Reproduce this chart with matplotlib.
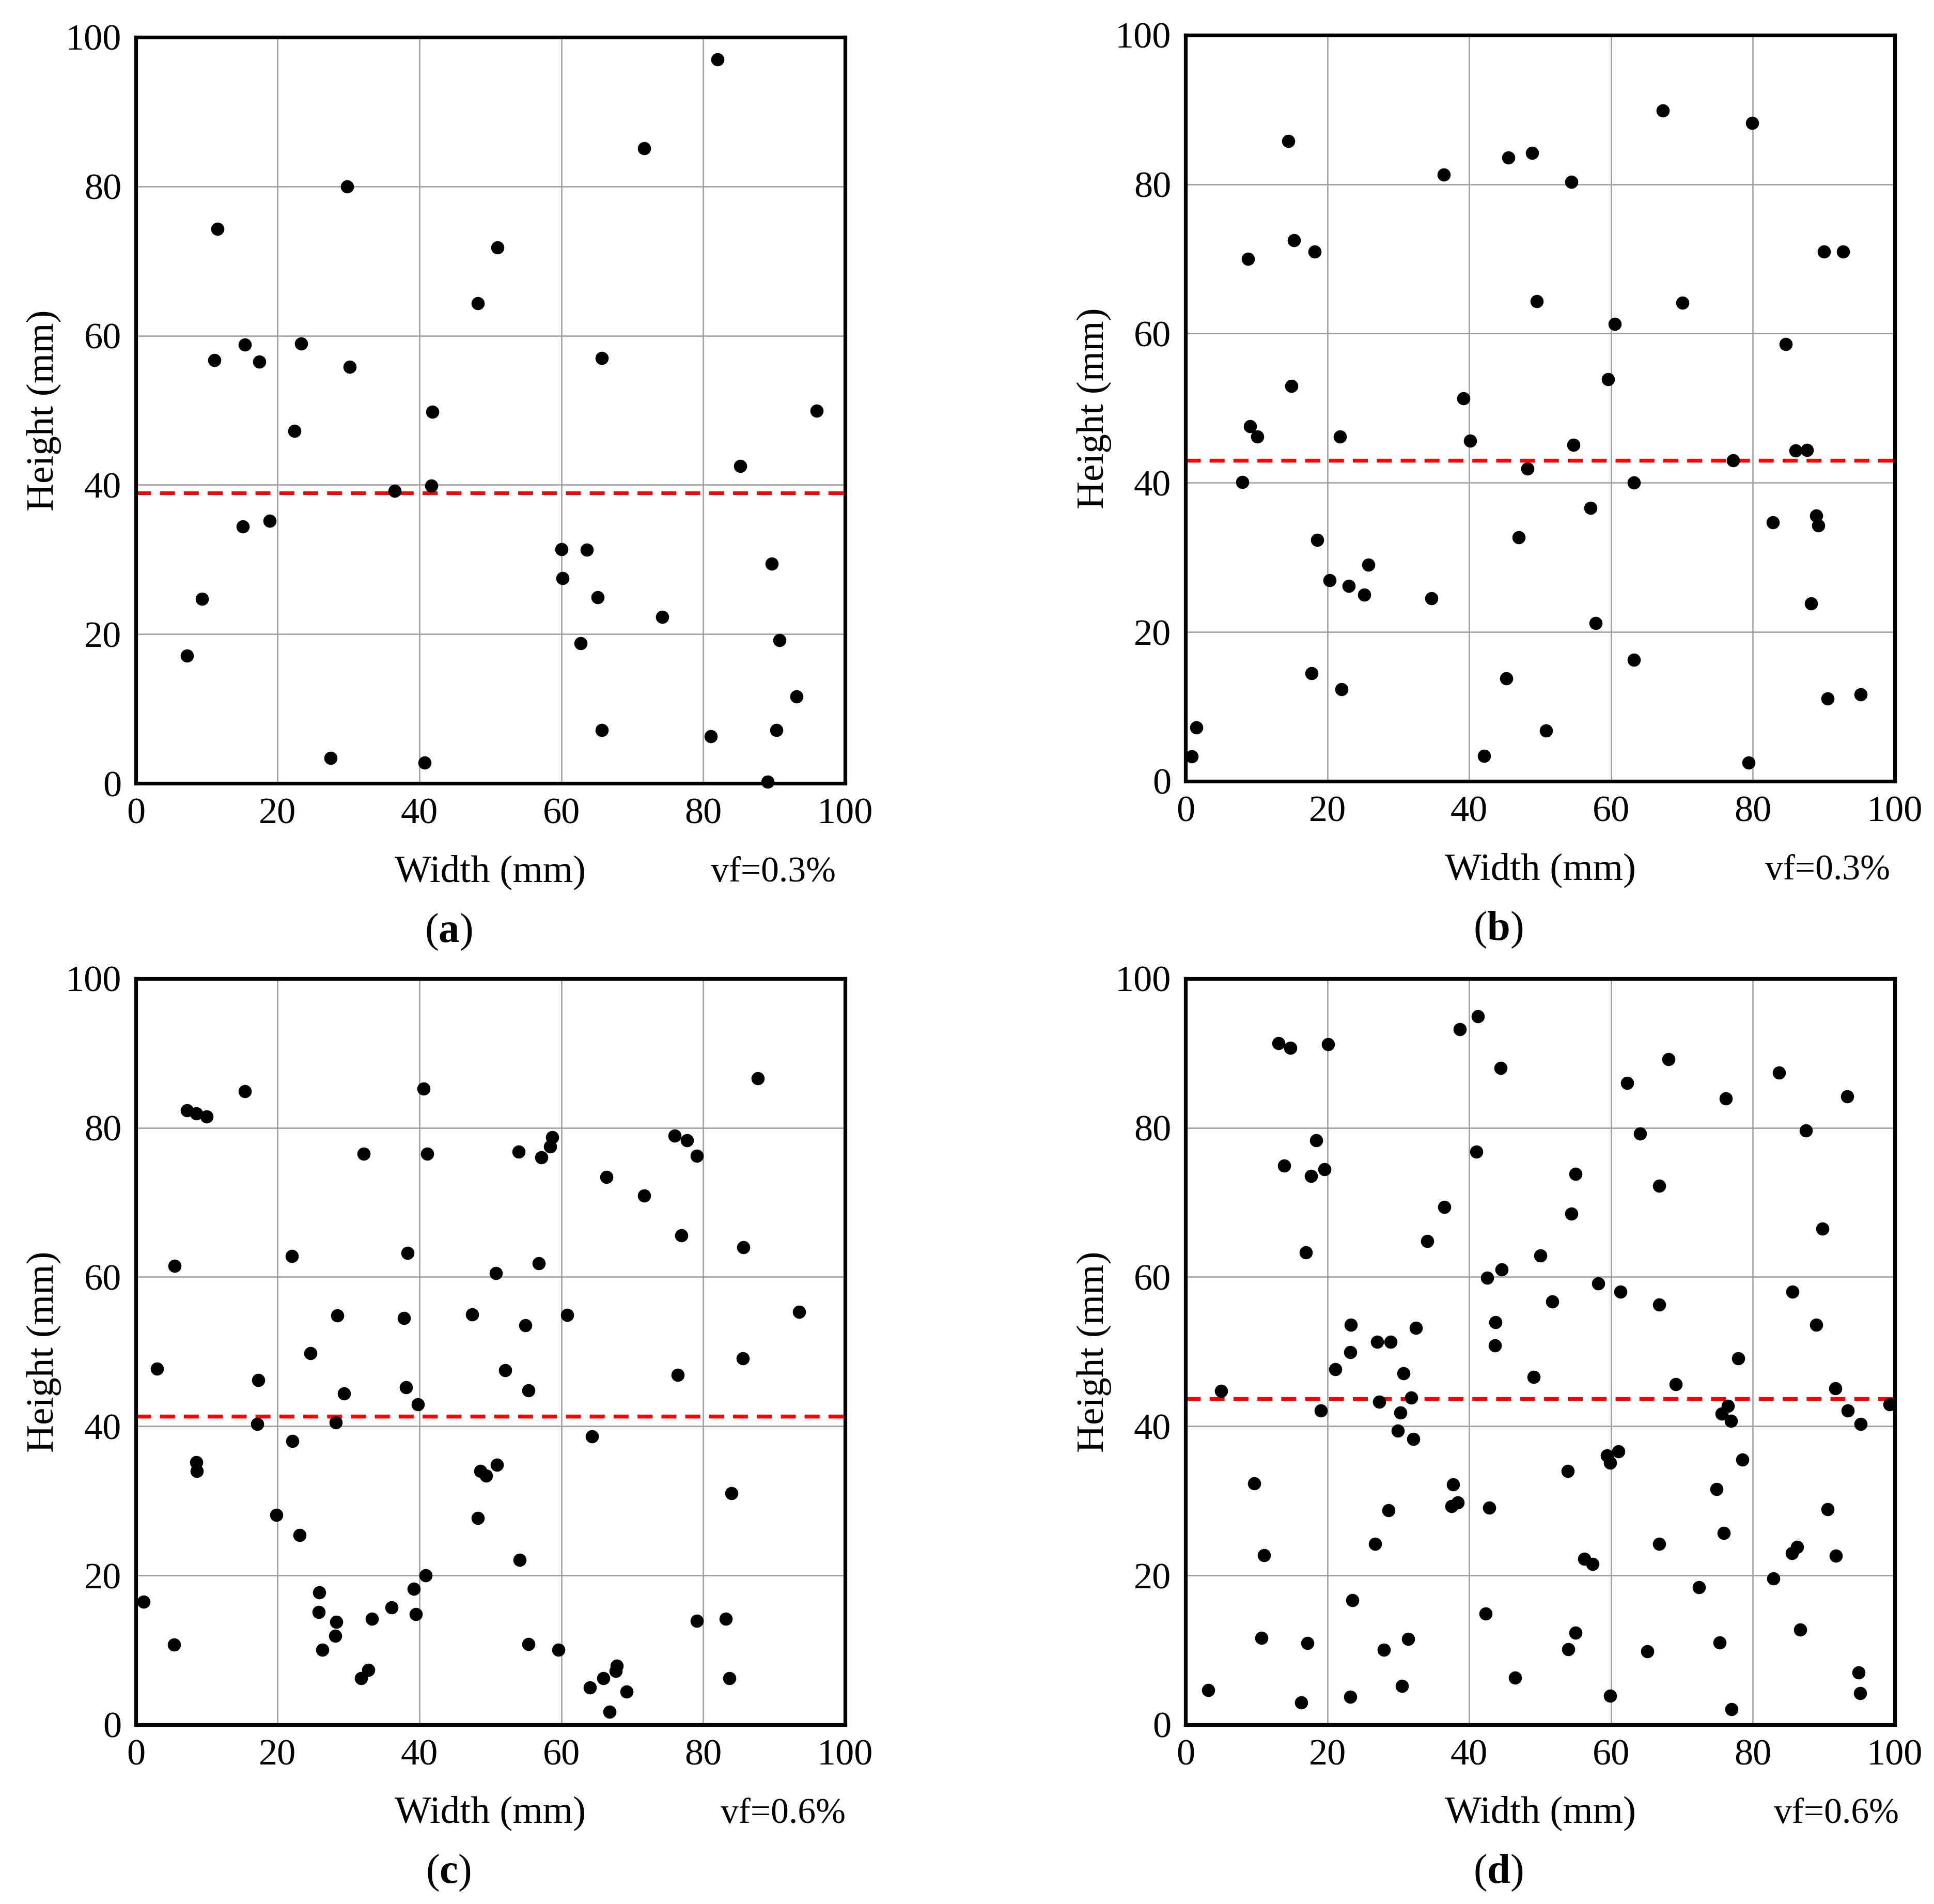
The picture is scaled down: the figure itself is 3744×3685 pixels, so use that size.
import matplotlib
matplotlib.use("Agg")
import matplotlib.pyplot as plt

plt.rcParams['font.family'] = ['Liberation Serif', 'DejaVu Serif']
plt.rcParams['mathtext.fontset'] = 'custom'
plt.rcParams['mathtext.rm'] = 'Liberation Serif'
plt.rcParams['mathtext.bf'] = 'Liberation Serif:bold'

# (a) vf=0.3%
xa = [7.2, 9.3, 11.5, 11.1, 15.4, 15.1, 17.4, 18.9, 22.4, 23.3, 27.5, 29.8, 30.2, 36.5, 40.7,
      41.7, 41.8, 48.2, 51.0, 60.0, 60.2, 63.6, 62.7, 65.1, 65.7, 65.7, 71.7, 74.2, 81.1, 82.0,
      85.2, 89.1, 89.7, 90.3, 90.8, 93.2, 96.0]
ya = [17.1, 24.7, 74.3, 56.7, 58.8, 34.4, 56.5, 35.2, 47.2, 58.9, 3.4, 80.0, 55.8, 39.2, 2.8,
      39.9, 49.8, 64.3, 71.8, 31.4, 27.5, 31.3, 18.8, 24.9, 57.0, 7.1, 85.1, 22.3, 6.3, 97.0,
      42.5, 0.2, 29.4, 7.1, 19.2, 11.6, 49.9]
mean_a = 38.9

# (b) vf=0.3%
xb = [0.9, 1.5, 8.0, 8.8, 9.1, 10.1, 14.5, 14.9, 15.3, 17.8, 18.2, 18.6, 20.3, 21.8, 22.0,
      23.0, 25.2, 25.8, 34.7, 36.4, 39.2, 40.1, 42.1, 45.2, 45.5, 47.0, 48.2, 48.9, 49.5, 50.8,
      54.4, 54.7, 57.1, 57.8, 59.6, 60.5, 63.2, 63.2, 67.3, 70.1, 77.2, 79.4, 79.9, 82.8, 84.6,
      86.0, 87.6, 88.2, 88.9, 89.2, 90.0, 90.5, 92.7, 95.2]
yb = [3.3, 7.2, 40.1, 70.0, 47.6, 46.2, 85.8, 53.0, 72.5, 14.5, 71.0, 32.3, 26.9, 46.2, 12.3,
      26.2, 25.0, 29.0, 24.5, 81.3, 51.3, 45.6, 3.4, 13.8, 83.6, 32.7, 41.9, 84.2, 64.3, 6.8,
      80.3, 45.1, 36.6, 21.2, 53.9, 61.3, 16.3, 40.0, 89.9, 64.1, 43.0, 2.5, 88.2, 34.7, 58.6,
      44.3, 44.4, 23.8, 35.6, 34.3, 71.0, 11.1, 71.0, 11.6]
mean_b = 43.0

# (c) vf=0.6%
xc = [1.1, 3.0, 5.4, 5.5, 7.2, 8.5, 10.0, 8.5, 8.6, 15.4, 17.1, 17.3, 19.8, 22.0, 22.1,
      23.1, 24.6, 25.8, 25.9, 26.3, 28.1, 28.2, 28.3, 28.4, 29.4, 31.8, 32.1, 32.8, 33.3, 36.1,
      37.8, 38.1, 38.3, 39.2, 39.5, 39.8, 40.6, 40.9, 41.1, 47.4, 48.2, 48.6, 49.4, 50.8, 50.9,
      52.1, 54.0, 54.1, 54.9, 55.4, 55.4, 56.8, 57.2, 58.4, 58.7, 59.6, 60.8, 64.0, 64.3, 65.9,
      66.4, 66.8, 67.7, 67.8, 69.2, 71.7, 76.0, 76.4, 76.9, 77.7, 79.1, 79.1, 83.2, 83.7, 84.0,
      85.6, 85.7, 87.7, 93.5]
yc = [16.5, 47.7, 10.7, 61.5, 82.3, 81.9, 81.5, 35.2, 34.0, 84.9, 40.3, 46.2, 28.1, 62.8, 38.0,
      25.4, 49.8, 15.1, 17.7, 10.0, 11.9, 40.5, 13.8, 54.8, 44.4, 6.2, 76.5, 7.3, 14.2, 15.7,
      54.5, 45.2, 63.2, 18.2, 14.8, 42.9, 85.2, 20.0, 76.5, 55.0, 27.7, 34.0, 33.4, 60.5, 34.8,
      47.5, 76.8, 22.1, 53.5, 44.8, 10.8, 61.8, 76.0, 77.5, 78.7, 10.0, 54.9, 5.0, 38.6, 6.2,
      73.4, 1.7, 7.2, 7.9, 4.4, 70.9, 78.9, 46.9, 65.6, 78.3, 76.2, 13.9, 14.2, 6.2, 31.0,
      49.1, 64.0, 86.6, 55.3]
mean_c = 41.3

# (d) vf=0.6%
xd = [3.2, 5.0, 9.7, 10.7, 11.1, 13.1, 13.9, 14.8, 16.3, 17.0, 17.2, 17.7, 18.4, 19.1, 19.6,
      20.1, 21.1, 23.2, 23.3, 23.2, 23.5, 26.7, 27.0, 27.3, 28.0, 28.6, 28.9, 29.9, 30.3, 30.5,
      30.7, 31.4, 31.8, 32.1, 32.5, 34.1, 36.5, 37.5, 37.7, 38.4, 38.7, 41.0, 41.2, 42.3, 42.5,
      42.8, 43.6, 43.7, 44.4, 44.6, 46.5, 49.1, 50.0, 51.7, 53.9, 54.0, 54.4, 55.0, 55.0, 56.2,
      57.4, 58.2, 59.4, 59.9, 59.9, 61.0, 61.3, 62.3, 64.1, 65.1, 66.8, 66.8, 66.8, 68.1, 69.1,
      72.4, 74.9, 75.3, 75.6, 75.9, 76.2, 76.5, 76.9, 77.0, 77.9, 78.5, 82.9, 83.7, 85.6, 85.5,
      86.2, 86.7, 87.5, 88.9, 89.8, 90.5, 91.6, 91.7, 93.3, 93.4, 94.9, 95.1, 95.2, 99.3]
yd = [4.6, 44.7, 32.3, 11.6, 22.7, 91.3, 74.9, 90.7, 3.0, 63.3, 10.9, 73.5, 78.3, 42.1, 74.4,
      91.2, 47.6, 49.9, 53.6, 3.7, 16.7, 24.2, 51.3, 43.3, 10.0, 28.7, 51.3, 39.4, 41.8, 5.2,
      47.1, 11.5, 43.8, 38.3, 53.2, 64.8, 69.4, 29.3, 32.2, 29.8, 93.2, 76.8, 94.9, 14.9, 59.9,
      29.1, 50.8, 53.9, 88.0, 61.0, 6.3, 46.6, 62.9, 56.7, 34.0, 10.1, 68.5, 12.3, 73.8, 22.2,
      21.5, 59.1, 36.1, 35.1, 3.9, 36.6, 58.0, 86.0, 79.2, 9.8, 72.2, 56.3, 24.2, 89.2, 45.6,
      18.4, 31.6, 11.0, 41.7, 25.7, 83.9, 42.7, 40.7, 2.1, 49.1, 35.5, 19.6, 87.4, 58.0, 23.0,
      23.8, 12.7, 79.6, 53.6, 66.5, 28.9, 45.1, 22.6, 84.2, 42.1, 7.0, 4.2, 40.3, 42.9]
mean_d = 43.7

panels = [
    (xa, ya, mean_a, 'vf=0.3%', 'a'),
    (xb, yb, mean_b, 'vf=0.3%', 'b'),
    (xc, yc, mean_c, 'vf=0.6%', 'c'),
    (xd, yd, mean_d, 'vf=0.6%', 'd'),
]
ticks = [0, 20, 40, 60, 80, 100]

fig = plt.figure(figsize=(18.72, 18.425), dpi=200)
rects = [
    [0.0702, 0.5886, 0.3667, 0.3919],
    [0.6130, 0.5897, 0.3667, 0.3919],
    [0.0702, 0.0942, 0.3667, 0.3919],
    [0.6130, 0.0942, 0.3667, 0.3919],
]
vf_x = [0.899, 0.905, 0.913, 0.918]

for i, (x, y, m, vf, tag) in enumerate(panels):
    ax = fig.add_axes(rects[i])
    ax.set_xlim(0, 100)
    ax.set_ylim(0, 100)
    ax.set_xticks(ticks)
    ax.set_yticks(ticks)
    ax.grid(True, color='#9a9a9a', linewidth=0.9)
    ax.set_axisbelow(True)
    ax.tick_params(length=0, labelsize=26, pad=10)
    for s in ax.spines.values():
        s.set_linewidth(2.6)
        s.set_color('black')
    # mean height
    ax.axhline(m, color='#ff0000', linewidth=2.6, linestyle=(0, (4.0, 2.4)), zorder=2)
    ax.plot(x, y, 'o', color='black', markersize=8.2, clip_on=False, zorder=3)
    ax.text(0.5, -0.119, 'Width (mm)', transform=ax.transAxes, ha='center', va='center', fontsize=27)
    ax.text(-0.129, 0.5, 'Height (mm)', transform=ax.transAxes, ha='center', va='center',
            rotation=90, fontsize=27)
    ax.text(vf_x[i], -0.12, vf, transform=ax.transAxes, ha='center', va='center', fontsize=25)
    ax.text(0.441, -0.199, r'($\mathbf{' + tag + '}$)', transform=ax.transAxes,
            ha='center', va='center', fontsize=29)

fig.savefig('out.png', dpi=200)
